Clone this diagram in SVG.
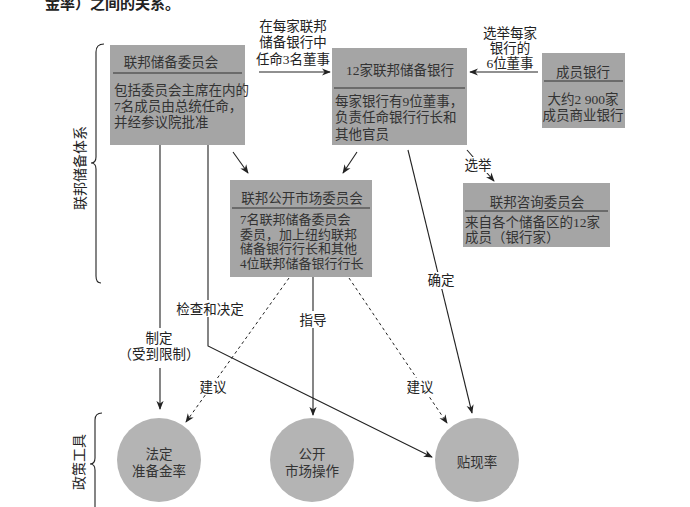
<svg xmlns="http://www.w3.org/2000/svg" width="690" height="507" viewBox="0 0 690 507">
<defs>
<marker id="ah" viewBox="0 0 10 10" refX="9" refY="5" markerWidth="9" markerHeight="9" markerUnits="userSpaceOnUse" orient="auto">
<path d="M0,1 L10,5 L0,9 L3,5 Z" fill="#222"/>
</marker>
<style>
text{font-family:"Liberation Serif","Noto Sans CJK SC",serif;fill:#222}
.box{fill:#a5a5a5}
.circ{fill:#b4b4b4}
.bt{font-size:13.5px;fill:#333}
.bs{font-size:13px;fill:#333}
.lb{font-size:13.5px;text-anchor:middle}
.c{text-anchor:middle}
.div{stroke:#333;stroke-width:1.2}
.ln{stroke:#222;stroke-width:1.1;fill:none}
.dash{stroke:#222;stroke-width:1;fill:none;stroke-dasharray:3,3}
.bg{fill:#fff}
</style>
</defs>
<rect width="690" height="507" fill="#fff"/>
<text x="45" y="9" style="font-size:15px;font-weight:bold">金率）之间的关系。</text>

<g id="brace-fed">
<path class="ln" d="M104,44 Q96,44 96,52 L96,157 Q96,163 91,163 Q96,163 96,169 L96,276 Q96,283 101,283"/>
<text transform="translate(85,168) rotate(-90)" class="c" style="font-size:14px">联邦储备体系</text>
</g>
<g id="brace-tools">
<path class="ln" d="M102,413 Q95,413 95,420 L95,458 Q95,464 90,464 Q95,464 95,470 L95,507"/>
<text transform="translate(84,462) rotate(-90)" class="c" style="font-size:14px">政策工具</text>
</g>

<g id="connectors">
<line class="ln" x1="259" y1="72" x2="330" y2="72" marker-end="url(#ah)"/>
<line class="ln" x1="538" y1="72" x2="470" y2="72" marker-end="url(#ah)"/>
<line class="ln" x1="233" y1="152" x2="248" y2="173" marker-end="url(#ah)"/>
<line class="ln" x1="357" y1="152" x2="343" y2="173" marker-end="url(#ah)"/>
<line class="ln" x1="467" y1="150" x2="494" y2="181" marker-end="url(#ah)"/>
<line class="ln" x1="160" y1="145" x2="160" y2="409" marker-end="url(#ah)"/>
<polyline class="ln" points="208,145 208,346 432,457" marker-end="url(#ah)"/>
<line class="ln" x1="313" y1="277" x2="313" y2="415" marker-end="url(#ah)"/>
<line class="ln" x1="408" y1="150" x2="472" y2="413" marker-end="url(#ah)"/>
<line class="dash" x1="289" y1="278" x2="186" y2="422" marker-end="url(#ah)"/>
<line class="dash" x1="349" y1="278" x2="447" y2="423" marker-end="url(#ah)"/>
</g>

<g id="labels">
<text class="lb" x="293" y="31">在每家联邦</text>
<text class="lb" x="293" y="47">储备银行中</text>
<text class="lb" x="293" y="64">任命3名董事</text>
<text class="lb" x="510" y="38">选举每家</text>
<text class="lb" x="510" y="53">银行的</text>
<text class="lb" x="510" y="68">6位董事</text>
<rect class="bg" x="466" y="157" width="24" height="16"/>
<text class="lb" x="478" y="170">选举</text>
<rect class="bg" x="124" y="328" width="72" height="40"/>
<text class="lb" x="159" y="343">制定</text>
<text class="lb" x="159" y="359">（受到限制）</text>
<rect class="bg" x="176" y="300" width="68" height="17"/>
<text class="lb" x="210" y="314">检查和决定</text>
<rect class="bg" x="299" y="311" width="28" height="17"/>
<text class="lb" x="313" y="325">指导</text>
<rect class="bg" x="199" y="378" width="28" height="17"/>
<text class="lb" x="213" y="392">建议</text>
<rect class="bg" x="406" y="378" width="28" height="17"/>
<text class="lb" x="420" y="392">建议</text>
<rect class="bg" x="427" y="272" width="28" height="17"/>
<text class="lb" x="441" y="285">确定</text>
</g>

<g id="fed-board">
<rect class="box" x="110" y="45" width="135" height="100"/>
<text class="bt c" x="171" y="67">联邦储备委员会</text>
<line class="div" x1="113" y1="73" x2="242" y2="73"/>
<text class="bt" x="114" y="95">包括委员会主席在内的</text>
<text class="bt" x="114" y="111">7名成员由总统任命，</text>
<text class="bt" x="114" y="127">并经参议院批准</text>
</g>

<g id="reserve-banks">
<rect class="box" x="332" y="48" width="135" height="97"/>
<text class="bt c" x="400" y="75">12家联邦储备银行</text>
<line class="div" x1="334" y1="88" x2="465" y2="88"/>
<text class="bt" x="335" y="106">每家银行有9位董事，</text>
<text class="bt" x="335" y="122">负责任命银行行长和</text>
<text class="bt" x="335" y="139">其他官员</text>
</g>

<g id="member-banks">
<rect class="box" x="542" y="53" width="83" height="75"/>
<text class="bt c" x="583" y="77">成员银行</text>
<line class="div" x1="544" y1="81" x2="623" y2="81"/>
<text class="bt c" x="583" y="104">大约2 900家</text>
<text class="bt c" x="583" y="120">成员商业银行</text>
</g>

<g id="fomc">
<rect class="box" x="230" y="180" width="142" height="97"/>
<text class="bt c" x="302" y="203">联邦公开市场委员会</text>
<line class="div" x1="232" y1="208" x2="370" y2="208"/>
<text class="bs" x="240" y="224">7名联邦储备委员会</text>
<text class="bs" x="240" y="238.5">委员，加上纽约联邦</text>
<text class="bs" x="240" y="253">储备银行行长和其他</text>
<text class="bs" x="240" y="267.5">4位联邦储备银行行长</text>
</g>

<g id="advisory">
<rect class="box" x="463" y="183" width="147" height="64"/>
<text class="bt c" x="537" y="207">联邦咨询委员会</text>
<line class="div" x1="465" y1="211" x2="608" y2="211"/>
<text class="bt" x="465" y="227">来自各个储备区的12家</text>
<text class="bt" x="465" y="242">成员（银行家）</text>
</g>

<g id="reserve-req">
<circle class="circ" cx="159" cy="460" r="42"/>
<text class="bt c" x="159" y="459">法定</text>
<text class="bt c" x="159" y="476">准备金率</text>
</g>
<g id="open-market">
<circle class="circ" cx="312" cy="460" r="42"/>
<text class="bt c" x="312" y="459">公开</text>
<text class="bt c" x="312" y="476">市场操作</text>
</g>
<g id="discount">
<circle class="circ" cx="477" cy="460" r="42"/>
<text class="bt c" x="477" y="467">贴现率</text>
</g>
</svg>
